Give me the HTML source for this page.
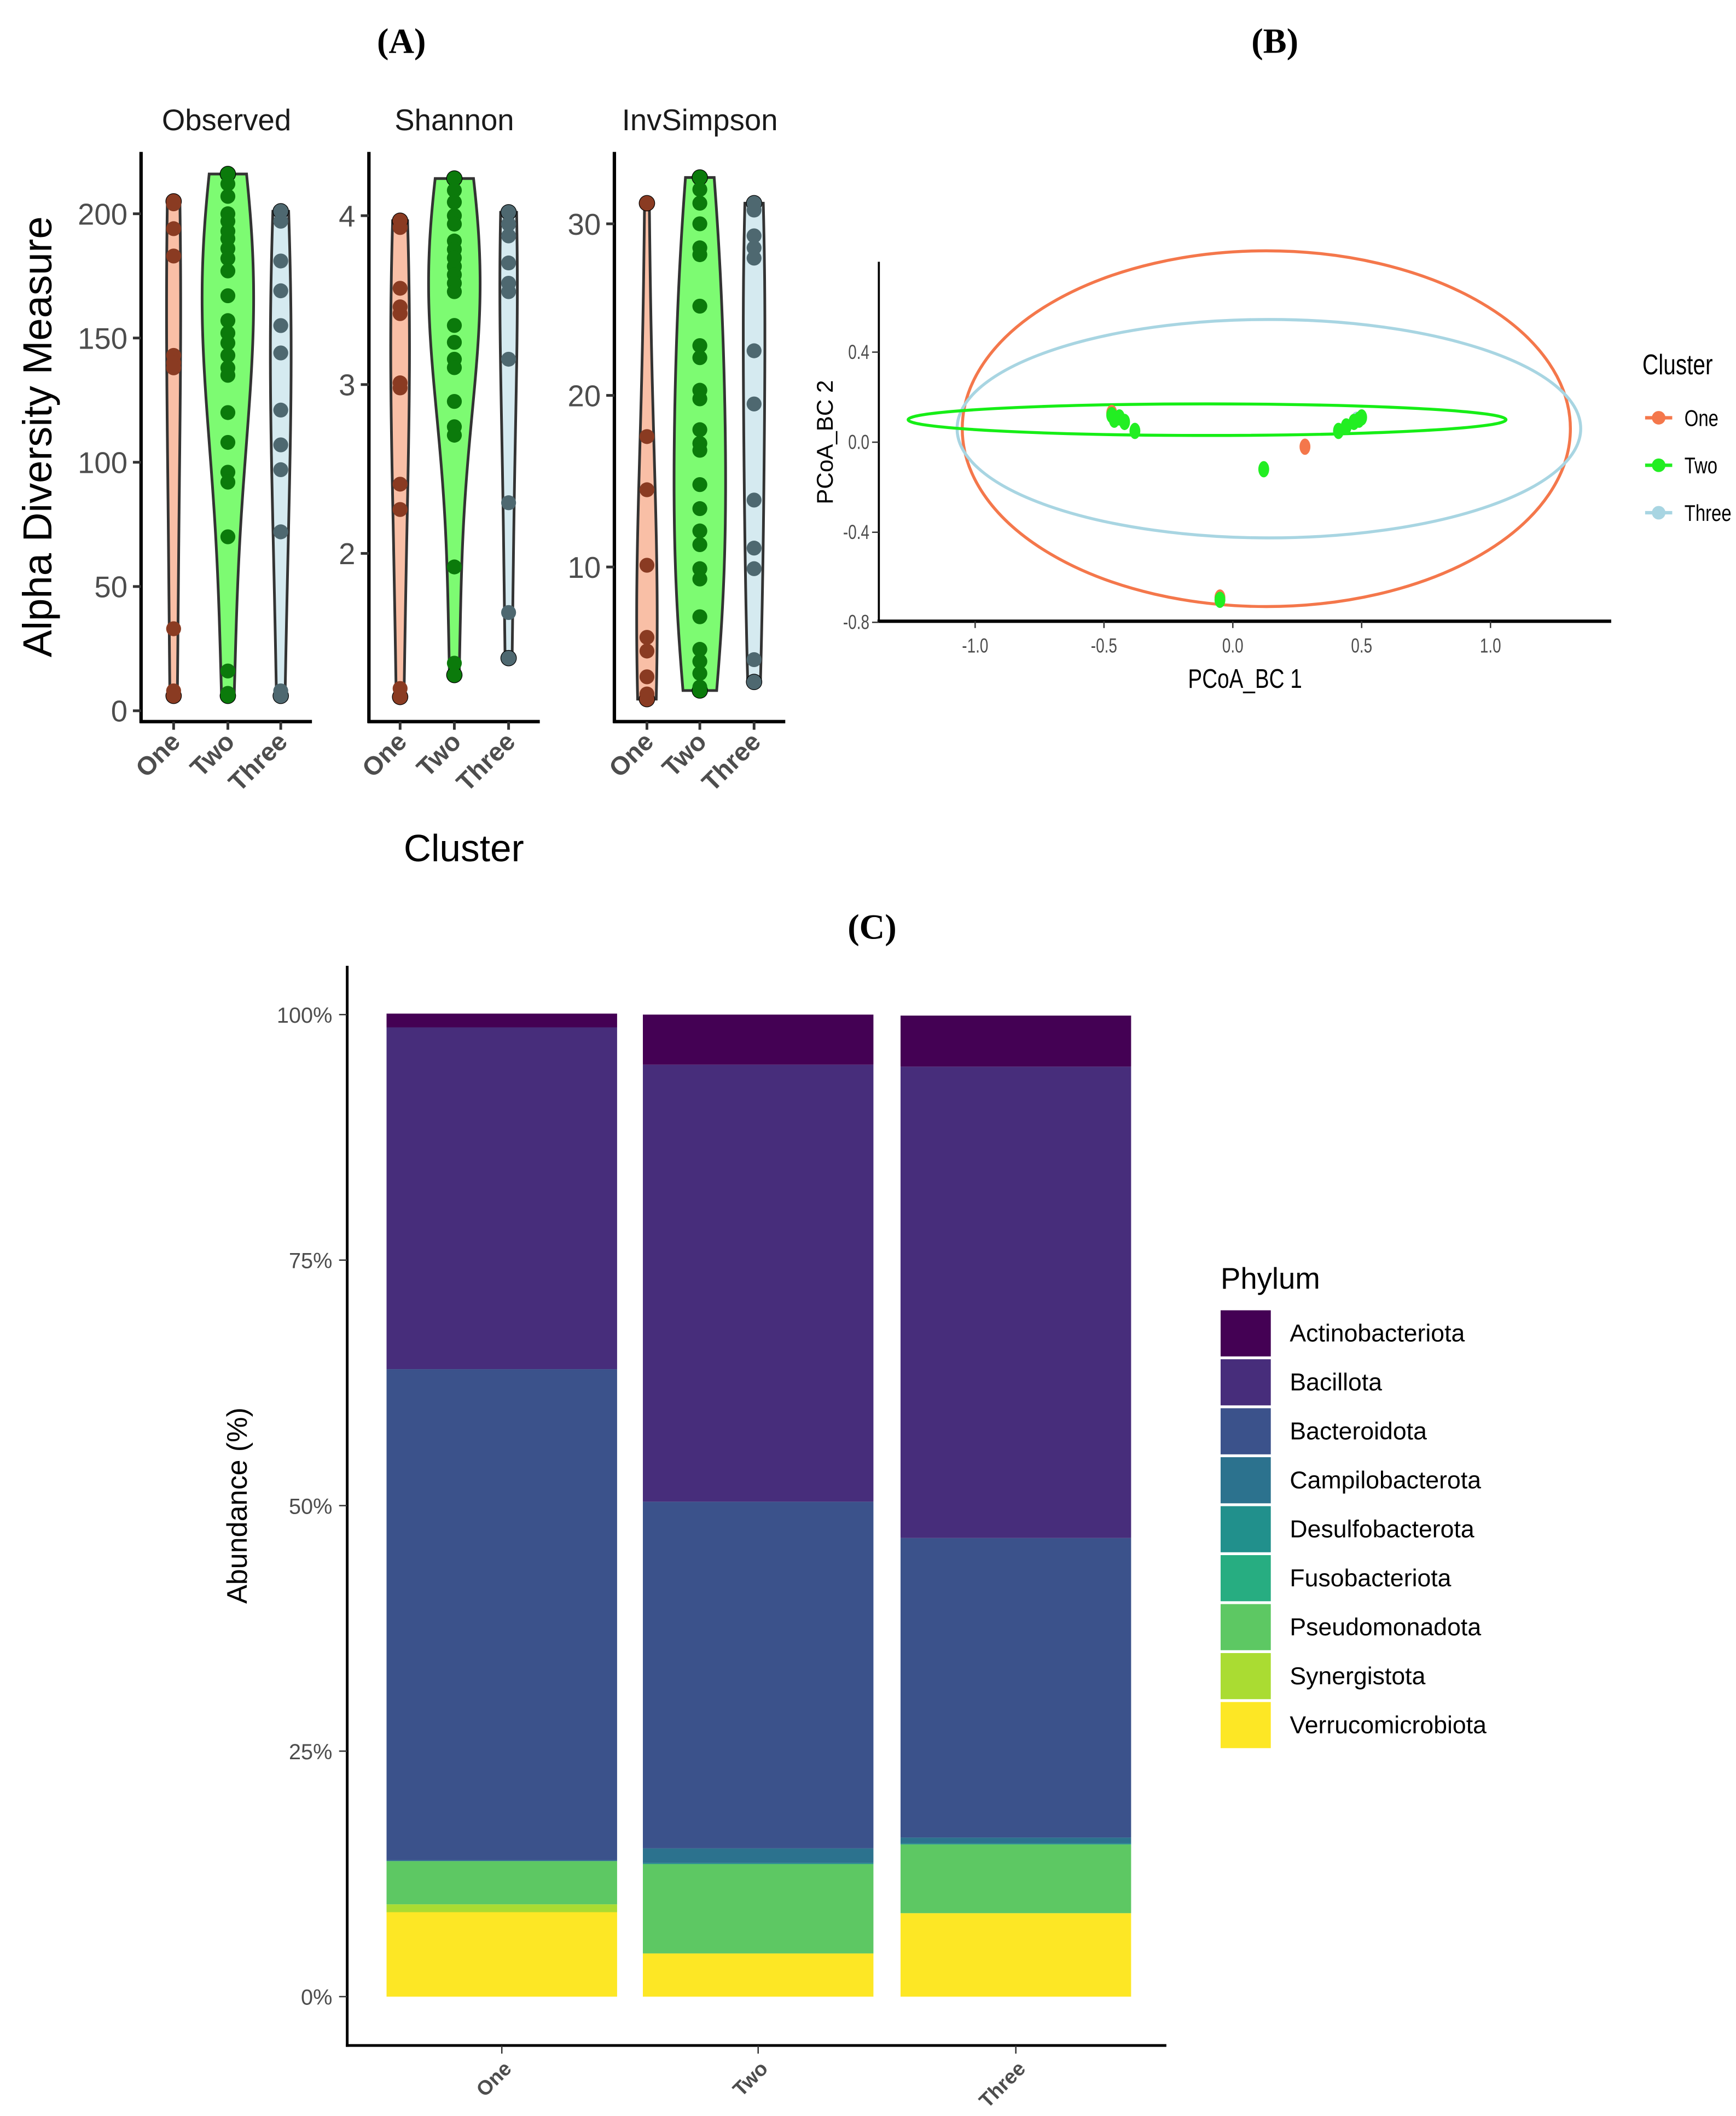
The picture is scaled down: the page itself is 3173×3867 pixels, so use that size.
<!DOCTYPE html>
<html><head><meta charset="utf-8"><style>
html,body{margin:0;padding:0;background:#fff;}
svg{display:block;font-family:"Liberation Sans",sans-serif;}
</style></head><body>
<svg id="fig" width="3173" height="3867" viewBox="0 0 1280 1560" xmlns="http://www.w3.org/2000/svg">
<g font-family="Liberation Serif,serif" font-weight="bold" font-size="26" text-anchor="middle" fill="#000">
<text x="296" y="39">(A)</text>
<text x="940" y="39">(B)</text>
<text x="643" y="692">(C)</text>
</g>
<g id="pa"></g>
<g id="pb"></g>
<g id="pc"></g>
</svg>
<script>
// ---------- Panel A data ----------
const groups = ["One","Two","Three"];
const obsOne = [205,204,194,183,143,140,138,33,8,6];
const obsTwo = [216,212,207,200,197,193,190,186,182,177,167,157,152,148,143,138,135,120,108,96,92,70,16,7,6];
const obsThree = [201,197,181,169,155,144,121,107,97,72,8,6];
const shaOne = [3.97,3.93,3.57,3.46,3.42,3.01,2.98,2.41,2.26,1.20,1.15];
const shaTwo = [4.22,4.15,4.08,4.0,3.95,3.85,3.8,3.75,3.7,3.65,3.6,3.55,3.35,3.25,3.15,3.1,2.9,2.75,2.7,1.92,1.35,1.28];
const shaThree = [4.02,3.95,3.88,3.72,3.6,3.55,3.15,2.3,1.65,1.38];
const invOne = [31.2,17.6,14.5,10.1,5.9,5.1,3.6,2.6,2.3];
const invTwo = [32.7,32,31.2,30,28.6,28.2,25.2,22.9,22.2,20.3,19.8,18,17.2,16.8,14.8,13.4,12.1,11.3,9.9,9.3,7.1,5.2,4.5,3.8,3.0,2.8];
const invThree = [31.2,30.8,29.3,28.6,28.0,22.6,19.5,13.9,11.1,9.9,4.6,3.3];
const obsTicks = [0,50,100,150,200];
const shaTicks = [2,3,4];
const invTicks = [10,20,30];
// ---------- Panel B data ----------
const pcoaX1 = [-0.47,-0.46,-0.44,-0.42,-0.38,0.41,0.44,0.47,0.50,0.49,0.12,-0.05];
const pcoaY1 = [0.12,0.10,0.11,0.09,0.05,0.05,0.07,0.09,0.11,0.10,-0.12,-0.70];
const pcoaXOne = [0.28,-0.05,-0.47];
const pcoaYOne = [-0.02,-0.69,0.13];
const pcoaXThree = [0.48];
const pcoaYThree = [0.10];
const ellCx = [0.13,0.14,-0.10];   // One, Three, Two
const ellCy = [0.06,0.06,0.10];
const ellRx = [1.18,1.21,1.16];
const ellRy = [0.79,0.485,0.07];
const pcoaXTicks = [-1.0,-0.5,0.0,0.5,1.0];
const pcoaYTicks = [0.4,0.0,-0.4,-0.8];
// ---------- Panel C data ----------
const phyla = ["Actinobacteriota","Bacillota","Bacteroidota","Campilobacterota","Desulfobacterota","Fusobacteriota","Pseudomonadota","Synergistota","Verrucomicrobiota"];
const phylaColors = ["#440154","#472D7B","#3B528B","#2C728E","#21908C","#27AD81","#5DC863","#AADC32","#FDE725"];
const abOne = [1.4,34.8,50.0,0.1,0.0,0.0,4.4,0.8,8.6];
const abTwo = [5.1,44.5,35.3,1.5,0.1,0.0,9.1,0.0,4.4];
const abThree = [5.2,48.0,30.5,0.6,0.1,0.0,7.0,0.0,8.5];
const pctTicks = [0,25,50,75,100];

const NS="http://www.w3.org/2000/svg";
function mk(tag,attrs,parent,txt){const e=document.createElementNS(NS,tag);for(const k in attrs)e.setAttribute(k,attrs[k]);if(txt!==undefined)e.textContent=txt;parent.appendChild(e);return e;}

// ---------- Panel A ----------
const pa=document.getElementById('pa');
const fills=["#f9bfa6","#7dfb72","#d5eaf0"];
const ptCol=["#8a3b22","#0b7a0b","#4e6870"];
function kde(vals,y){const n=vals.length;const m=vals.reduce((a,b)=>a+b,0)/n;const sd=Math.sqrt(vals.reduce((a,b)=>a+(b-m)*(b-m),0)/(n-1));const bw=1.45*sd*Math.pow(n,-0.2);let s=0;for(const v of vals){const z=(y-v)/bw;s+=Math.exp(-0.5*z*z)/bw;}return s/n;}
function facet(title,sets,ticks,axX,xs,yf,stripX){
  const g=mk('g',{},pa);
  
  
  const t=mk('text',{x:stripX,y:96,'font-size':22,'text-anchor':'middle',fill:'#1a1a1a'},g,title);
  
  let dens=[],maxd=0;
  sets.forEach((vals)=>{const lo=Math.min(...vals),hi=Math.max(...vals);const arr=[];for(let i=0;i<=80;i++){const v=lo+(hi-lo)*i/80;const d=kde(vals,v)*vals.length;arr.push([v,d]);if(d>maxd)maxd=d;}dens.push(arr);});
  sets.forEach((vals,gi)=>{
    const arr=dens[gi];const cx=xs[gi];
    let d='';arr.forEach((p,i)=>{d+=(i?'L':'M')+(cx+p[1]/maxd*19).toFixed(2)+','+yf(p[0]).toFixed(2);});
    for(let i=arr.length-1;i>=0;i--){d+='L'+(cx-arr[i][1]/maxd*19).toFixed(2)+','+yf(arr[i][0]).toFixed(2);}
    d+='Z';
    const v=mk('path',{d:d,fill:fills[gi],stroke:'#333',"stroke-width":2},g);
    
    const lo=Math.min(...vals),hi=Math.max(...vals);
    [lo,hi].forEach(val=>{const c=mk('circle',{cx:cx,cy:yf(val),r:6,fill:'#000'},g);});
    vals.forEach(val=>{const c=mk('circle',{cx:cx,cy:yf(val),r:5.5,fill:ptCol[gi]},g);});
  });
  mk('line',{x1:axX,y1:112,x2:axX,y2:533,stroke:'#000','stroke-width':2.5},g);
  mk('line',{x1:axX-1,y1:532,x2:axX+126,y2:532,stroke:'#000','stroke-width':2.5},g);
  ticks.forEach(tv=>{const y=yf(tv);mk('line',{x1:axX-6,y1:y,x2:axX,y2:y,stroke:'#333','stroke-width':2},g);
    const tl=mk('text',{x:axX-10,y:y+8,'font-size':22,'text-anchor':'end',fill:'#4d4d4d'},g,String(tv));});
  xs.forEach((x,i)=>{mk('line',{x1:x,y1:532,x2:x,y2:538,stroke:'#333','stroke-width':2},g);
    const tl=mk('text',{x:x+6,y:548,'font-size':19,'font-weight':'bold','text-anchor':'end',fill:'#4d4d4d',transform:`rotate(-45 ${x+6} 548)`},g,groups[i]);});
}
facet('Observed',[obsOne,obsTwo,obsThree],obsTicks,104,[128,168,207],v=>524-v*1.832,167);
facet('Shannon',[shaOne,shaTwo,shaThree],shaTicks,272,[295,335,375],v=>159+(4-v)*124.5,335);
facet('InvSimpson',[invOne,invTwo,invThree],invTicks,453,[477,516,556],v=>165+(30-v)*12.65,516);
{const t=mk('text',{x:38,y:322,'font-size':30,'text-anchor':'middle',fill:'#000',transform:'rotate(-90 38 322)'},pa,'Alpha Diversity Measure');
 const c=mk('text',{x:342,y:635,'font-size':28,'text-anchor':'middle',fill:'#000'},pa,'Cluster');}

// ---------- Panel B ----------
const pb=document.getElementById('pb');
const bx=v=>909+v*190, by=v=>326-v*166;
const ellCols=["#f4774b","#a8d5e2","#16ee16"];
const ellNames=["ellipse-one","ellipse-three","ellipse-two"];
ellCx.forEach((c,i)=>{const e=mk('ellipse',{cx:bx(c),cy:by(ellCy[i]),rx:ellRx[i]*190,ry:ellRy[i]*166,fill:'none',stroke:ellCols[i],'stroke-width':2.2},pb);});
function pts(xsA,ysA,col,name){xsA.forEach((x,i)=>{const e=mk('ellipse',{cx:bx(x),cy:by(ysA[i]),rx:4,ry:6,fill:col},pb);});}
pts(pcoaXOne,pcoaYOne,'#f4774b','point-one');
pts(pcoaXThree,pcoaYThree,'#a8d5e2','point-three');
pts(pcoaX1,pcoaY1,'#22ee22','point-two');
mk('line',{x1:648,y1:193,x2:648,y2:459,stroke:'#000','stroke-width':1.5},pb);
mk('line',{x1:647,y1:458,x2:1188,y2:458,stroke:'#000','stroke-width':2.5},pb);
pcoaXTicks.forEach(v=>{const x=bx(v);mk('line',{x1:x,y1:458,x2:x,y2:463,stroke:'#333','stroke-width':1},pb);
 const t=mk('text',{x:x,y:481,'font-size':15,'text-anchor':'middle',fill:'#4d4d4d',transform:`translate(${x},0) scale(0.75,1) translate(${-x},0)`},pb,v.toFixed(1));});
pcoaYTicks.forEach(v=>{const y=by(v);mk('line',{x1:643,y1:y,x2:648,y2:y,stroke:'#333','stroke-width':1},pb);
 const t=mk('text',{x:641,y:y+5,'font-size':15,'text-anchor':'end',fill:'#4d4d4d',transform:`translate(641,0) scale(0.75,1) translate(-641,0)`},pb,v.toFixed(1));});
{const t=mk('text',{x:918,y:507,'font-size':20,'text-anchor':'middle',fill:'#000',transform:'translate(918,0) scale(0.78,1) translate(-918,0)'},pb,'PCoA_BC 1');
 const u=mk('text',{x:614,y:326,'font-size':17,'text-anchor':'middle',fill:'#000',transform:'rotate(-90 614 326)'},pb,'PCoA_BC 2');
 const l=mk('text',{x:1211,y:276,'font-size':21,fill:'#000',transform:'translate(1211,0) scale(0.78,1) translate(-1211,0)'},pb,'Cluster');
 const lc=["#f4774b","#22ee22","#a8d5e2"];
 groups.forEach((gname,i)=>{const y=308+35*i;const g=mk('g',{},pb);
  mk('line',{x1:1213,y1:y,x2:1233,y2:y,stroke:lc[i],'stroke-width':2.5},g);mk('circle',{cx:1223,cy:y,r:5,fill:lc[i]},g);
  mk('text',{x:1242,y:y+6,'font-size':17,fill:'#000',transform:'translate(1242,0) scale(0.78,1) translate(-1242,0)'},g,gname);});}

// ---------- Panel C ----------
const pc=document.getElementById('pc');
const cy=v=>1472-v*7.24;
const barX=[285,474,664], barW=170;
[abOne,abTwo,abThree].forEach((ab,bi)=>{let cum=0;
  for(let i=ab.length-1;i>=0;i--){const v=ab[i];if(v<=0)continue;const y0=cy(cum),y1=cy(cum+v);cum+=v;
   const r=mk('rect',{x:barX[bi],y:y1,width:barW,height:y0-y1,fill:phylaColors[i]},pc);
   }});
mk('line',{x1:256,y1:712,x2:256,y2:1509,stroke:'#000','stroke-width':2},pc);
mk('line',{x1:255,y1:1508,x2:860,y2:1508,stroke:'#000','stroke-width':2},pc);
pctTicks.forEach(v=>{const y=cy(v);mk('line',{x1:250,y1:y,x2:256,y2:y,stroke:'#333','stroke-width':1},pc);
 const t=mk('text',{x:245,y:y+6,'font-size':16,'text-anchor':'end',fill:'#4d4d4d'},pc,v+'%');});
groups.forEach((gname,i)=>{const x=barX[i]+barW/2;mk('line',{x1:x,y1:1508,x2:x,y2:1514,stroke:'#333','stroke-width':1},pc);
 const t=mk('text',{x:x+8,y:1526,'font-size':15,'font-weight':'bold','text-anchor':'end',fill:'#4d4d4d',transform:`rotate(-45 ${x+8} 1526)`},pc,gname);});
{const t=mk('text',{x:182,y:1110,'font-size':21,'text-anchor':'middle',fill:'#000',transform:'rotate(-90 182 1110)'},pc,'Abundance (%)');
 const l=mk('text',{x:900,y:950,'font-size':22,fill:'#000'},pc,'Phylum');}
phyla.forEach((p,i)=>{const y=966+36.1*i;const g=mk('g',{},pc);
 mk('rect',{x:900,y:y,width:37,height:34,fill:phylaColors[i]},g);
 mk('text',{x:951,y:y+23,'font-size':18,fill:'#000'},g,p);});
</script>
</body></html>
